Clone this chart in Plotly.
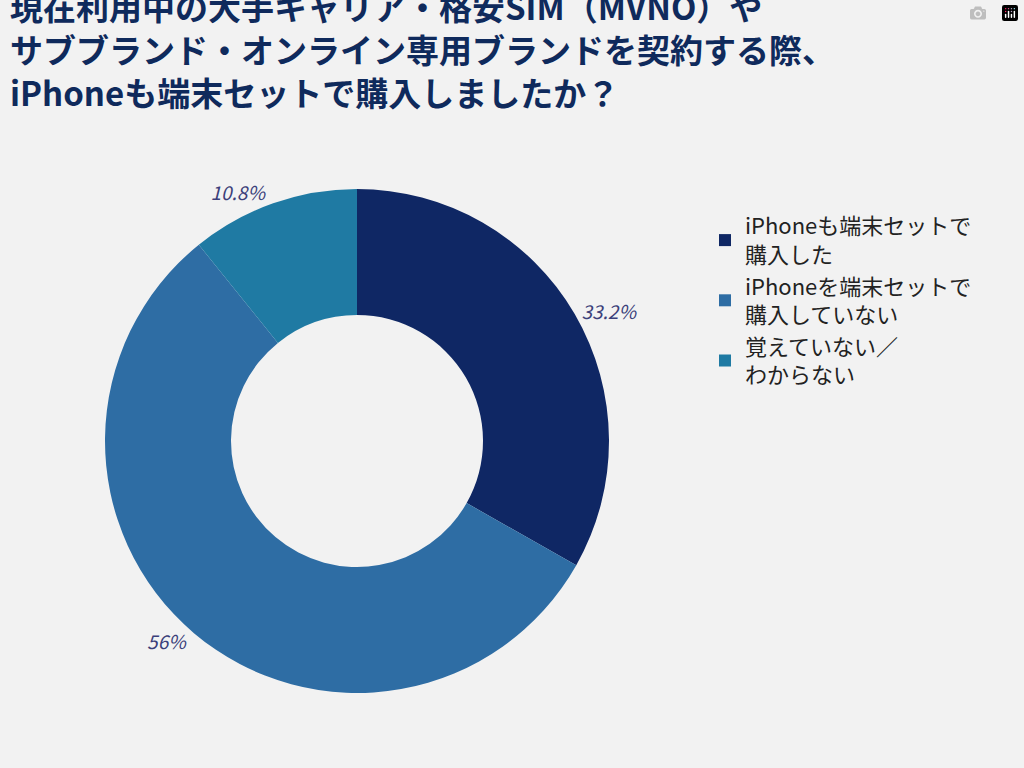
import plotly.graph_objects as go

labels = ["iPhoneも端末セットで<br>購入した", "iPhoneを端末セットで<br>購入していない", "覚えていない／<br>わからない"]
values = [33.2, 56, 10.8]
texts = ["33.2%", "56%", "10.8%"]
colors = ["#0f2764", "#2e6da4", "#1f7aa3"]

fig = go.Figure(go.Pie(
    labels=labels, values=values, text=texts, textinfo="text",
    textposition="outside", hole=0.5, sort=False, direction="clockwise", rotation=0,
    marker=dict(colors=colors, line=dict(width=0)),
    outsidetextfont=dict(family="Noto Sans CJK JP", size=19, color="#3b3f7a", style="italic"),
    domain=dict(x=[105/1024, 609/1024], y=[1-693/768, 1-189/768]),
    hoverinfo="skip"
))
fig.update_layout(
    width=1024, height=768, paper_bgcolor="#f2f2f2", plot_bgcolor="#f2f2f2",
    margin=dict(l=0, r=0, t=0, b=0),
    title=dict(text="現在利用中の大手キャリア・格安SIM（MVNO）や<br>サブブランド・オンライン専用ブランドを契約する際、<br>iPhoneも端末セットで購入しましたか？",
               x=10/1024, xanchor="left", y=1-20/768, yanchor="top",
               font=dict(family="Noto Sans CJK JP", size=33, color="#0f2a5c", weight="bold")),
    legend=dict(x=705/1024, y=1-205/768, xanchor="left", yanchor="top",
                font=dict(family="Noto Sans CJK JP", size=22, color="#222222"),
                itemsizing="constant", bgcolor="rgba(0,0,0,0)"),
    showlegend=True
)
fig.write_html("out.html", post_script="document.body.style.margin='0';document.body.style.background='#f2f2f2';")
